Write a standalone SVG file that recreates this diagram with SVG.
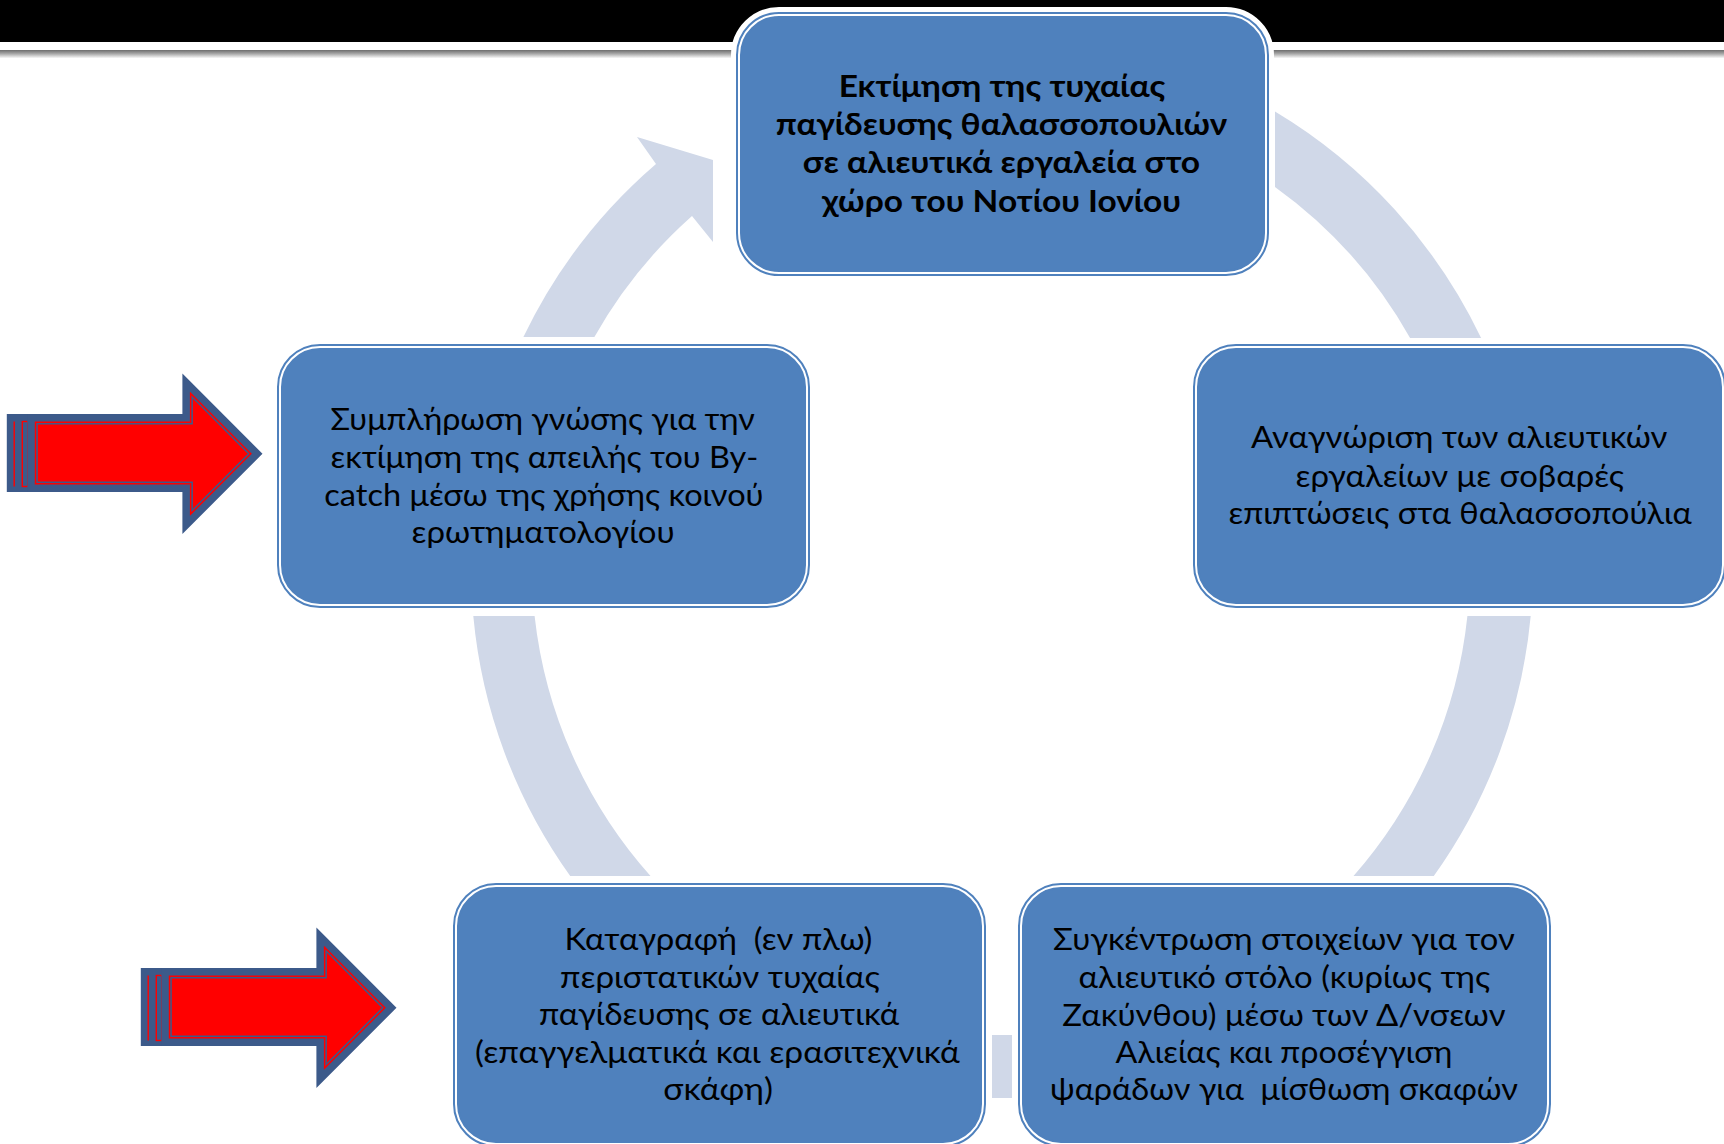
<svg xmlns="http://www.w3.org/2000/svg" width="1724" height="1144" viewBox="0 0 1724 1144">
<style>
.halo{fill:#fff;stroke:#fff;stroke-width:16}
.box{fill:#4F81BD;stroke:#4F81BD;stroke-width:6}
.inner{fill:none;stroke:#fff;stroke-width:2}
.arc{fill:#D0D8E8}
.t{font-family:Lato,'Open Sans','Noto Sans',sans-serif;font-size:31px;fill:#000;white-space:pre}
.b{font-weight:bold}
.ab{fill:#3C5A8A}
.aout{fill:#FF0000;stroke:#3C5A8A;stroke-width:7.5;stroke-linejoin:miter}
.ain{fill:none;stroke:#3C5A8A;stroke-width:1.5;stroke-linejoin:miter}
.rl{fill:none;stroke:#FF0000;stroke-width:1.4}
</style>
<defs>
<linearGradient id="shade" x1="0" y1="0" x2="0" y2="1">
<stop offset="0" stop-color="#6d6d6d"/>
<stop offset="0.45" stop-color="#a5a5a5"/>
<stop offset="1" stop-color="#f7f7f7"/>
</linearGradient>
<g id="redarrow">
<rect class="ab" x="6.8" y="414" width="26" height="78"/>
<line class="rl" x1="14.2" y1="421.5" x2="14.2" y2="486.5"/>
<rect class="rl" x="22.3" y="421.5" width="5.4" height="65"/>
<polygon class="aout" points="31.05,417.75 186.15,417.75 186.15,382.55 257.2,453.75 186.15,524.95 186.15,488.25 31.05,488.25"/>
<polygon class="ain" points="37.05,423.75 192.15,423.75 192.15,397.04 248.7,453.75 192.15,510.46 192.15,482.25 37.05,482.25"/>
</g>
</defs>
<rect x="0" y="0" width="1724" height="1144" fill="#fff"/>
<rect x="0" y="0" width="1724" height="42" fill="#000"/>
<rect x="0" y="50" width="1724" height="8" fill="url(#shade)"/>

<g id="connectors">
<path class="arc" d="M523.4,337 A531,531 0 0 1 656,164 L637,137 L713,160 L713,242 L692,216 A468,468 0 0 0 594.4,337 Z"/>
<path class="arc" d="M1275,111.6 A531,531 0 0 1 1481.1,338 L1410.1,338 A468,468 0 0 0 1275,186.9 Z"/>
<path class="arc" d="M1530.7,616 A531,531 0 0 1 1433.8,876 L1353.5,876 A468,468 0 0 0 1467.4,616 Z"/>
<rect class="arc" x="992" y="1035" width="20" height="63"/>
<path class="arc" d="M473.3,616 L534.6,616 A468,468 0 0 0 650.5,876 L570.2,876 A531,531 0 0 1 473.3,616 Z"/>
</g>

<g id="node-top">
<rect class="halo" x="739" y="15" width="527" height="258" rx="40"/>
<rect class="box" x="739" y="15" width="527" height="258" rx="40"/>
<rect class="inner" x="739" y="15" width="527" height="258" rx="40"/>
<text class="t b" x="838.7" y="96.7" textLength="326.7" lengthAdjust="spacingAndGlyphs">Εκτίμηση της τυχαίας</text>
<text class="t b" x="775.8" y="135" textLength="451.4" lengthAdjust="spacingAndGlyphs">παγίδευσης θαλασσοπουλιών</text>
<text class="t b" x="802.8" y="173.3" textLength="397.4" lengthAdjust="spacingAndGlyphs">σε αλιευτικά εργαλεία στο</text>
<text class="t b" x="822.1" y="211.7" textLength="358.9" lengthAdjust="spacingAndGlyphs">χώρο του Νοτίου Ιονίου</text>
</g>

<g id="node-right">
<rect class="halo" x="1196" y="347" width="527" height="258" rx="40"/>
<rect class="box" x="1196" y="347" width="527" height="258" rx="40"/>
<rect class="inner" x="1196" y="347" width="527" height="258" rx="40"/>
<text class="t" x="1251.1" y="448.3" textLength="416.4" lengthAdjust="spacingAndGlyphs">Αναγνώριση των αλιευτικών</text>
<text class="t" x="1295.5" y="486.5" textLength="328.6" lengthAdjust="spacingAndGlyphs">εργαλείων με σοβαρές</text>
<text class="t" x="1228.6" y="524.3" textLength="463.2" lengthAdjust="spacingAndGlyphs">επιπτώσεις στα θαλασσοπούλια</text>
</g>

<g id="node-bottom-right">
<rect class="halo" x="1021" y="886" width="527" height="258" rx="40"/>
<rect class="box" x="1021" y="886" width="527" height="258" rx="40"/>
<rect class="inner" x="1021" y="886" width="527" height="258" rx="40"/>
<text class="t" x="1053.1" y="950" textLength="461.7" lengthAdjust="spacingAndGlyphs">Συγκέντρωση στοιχείων για τον</text>
<text class="t" x="1078.5" y="988" textLength="411.8" lengthAdjust="spacingAndGlyphs">αλιευτικό στόλο (κυρίως της</text>
<text class="t" x="1062.3" y="1025.7" textLength="443.2" lengthAdjust="spacingAndGlyphs">Ζακύνθου) μέσω των Δ/νσεων</text>
<text class="t" x="1115.4" y="1063.3" textLength="337" lengthAdjust="spacingAndGlyphs">Αλιείας και προσέγγιση</text>
<text class="t" x="1049.9" y="1100" textLength="468.1" lengthAdjust="spacingAndGlyphs">ψαράδων για  μίσθωση σκαφών</text>
</g>

<g id="node-bottom-left">
<rect class="halo" x="456" y="886" width="527" height="258" rx="40"/>
<rect class="box" x="456" y="886" width="527" height="258" rx="40"/>
<rect class="inner" x="456" y="886" width="527" height="258" rx="40"/>
<text class="t" x="564.4" y="950" textLength="308" lengthAdjust="spacingAndGlyphs">Καταγραφή  (εν πλω)</text>
<text class="t" x="560" y="987.5" textLength="320" lengthAdjust="spacingAndGlyphs">περιστατικών τυχαίας</text>
<text class="t" x="538.9" y="1025" textLength="360.3" lengthAdjust="spacingAndGlyphs">παγίδευσης σε αλιευτικά</text>
<text class="t" x="475.1" y="1062.7" textLength="484.7" lengthAdjust="spacingAndGlyphs">(επαγγελματικά και ερασιτεχνικά</text>
<text class="t" x="663.3" y="1100.3" textLength="109.7" lengthAdjust="spacingAndGlyphs">σκάφη)</text>
</g>

<g id="node-left">
<rect class="halo" x="280" y="347" width="527" height="258" rx="40"/>
<rect class="box" x="280" y="347" width="527" height="258" rx="40"/>
<rect class="inner" x="280" y="347" width="527" height="258" rx="40"/>
<text class="t" x="330.5" y="430" textLength="424.2" lengthAdjust="spacingAndGlyphs">Συμπλήρωση γνώσης για την</text>
<text class="t" x="330.5" y="467.8" textLength="427.9" lengthAdjust="spacingAndGlyphs">εκτίμηση της απειλής του By-</text>
<text class="t" x="324.3" y="505.6" textLength="439.3" lengthAdjust="spacingAndGlyphs">catch μέσω της χρήσης κοινού</text>
<text class="t" x="411.6" y="543.4" textLength="263.1" lengthAdjust="spacingAndGlyphs">ερωτηματολογίου</text>
</g>

<g id="arrow-left-1">
<use href="#redarrow"/>
</g>
<g id="arrow-left-2">
<use href="#redarrow" transform="translate(134,554)"/>
</g>
</svg>
